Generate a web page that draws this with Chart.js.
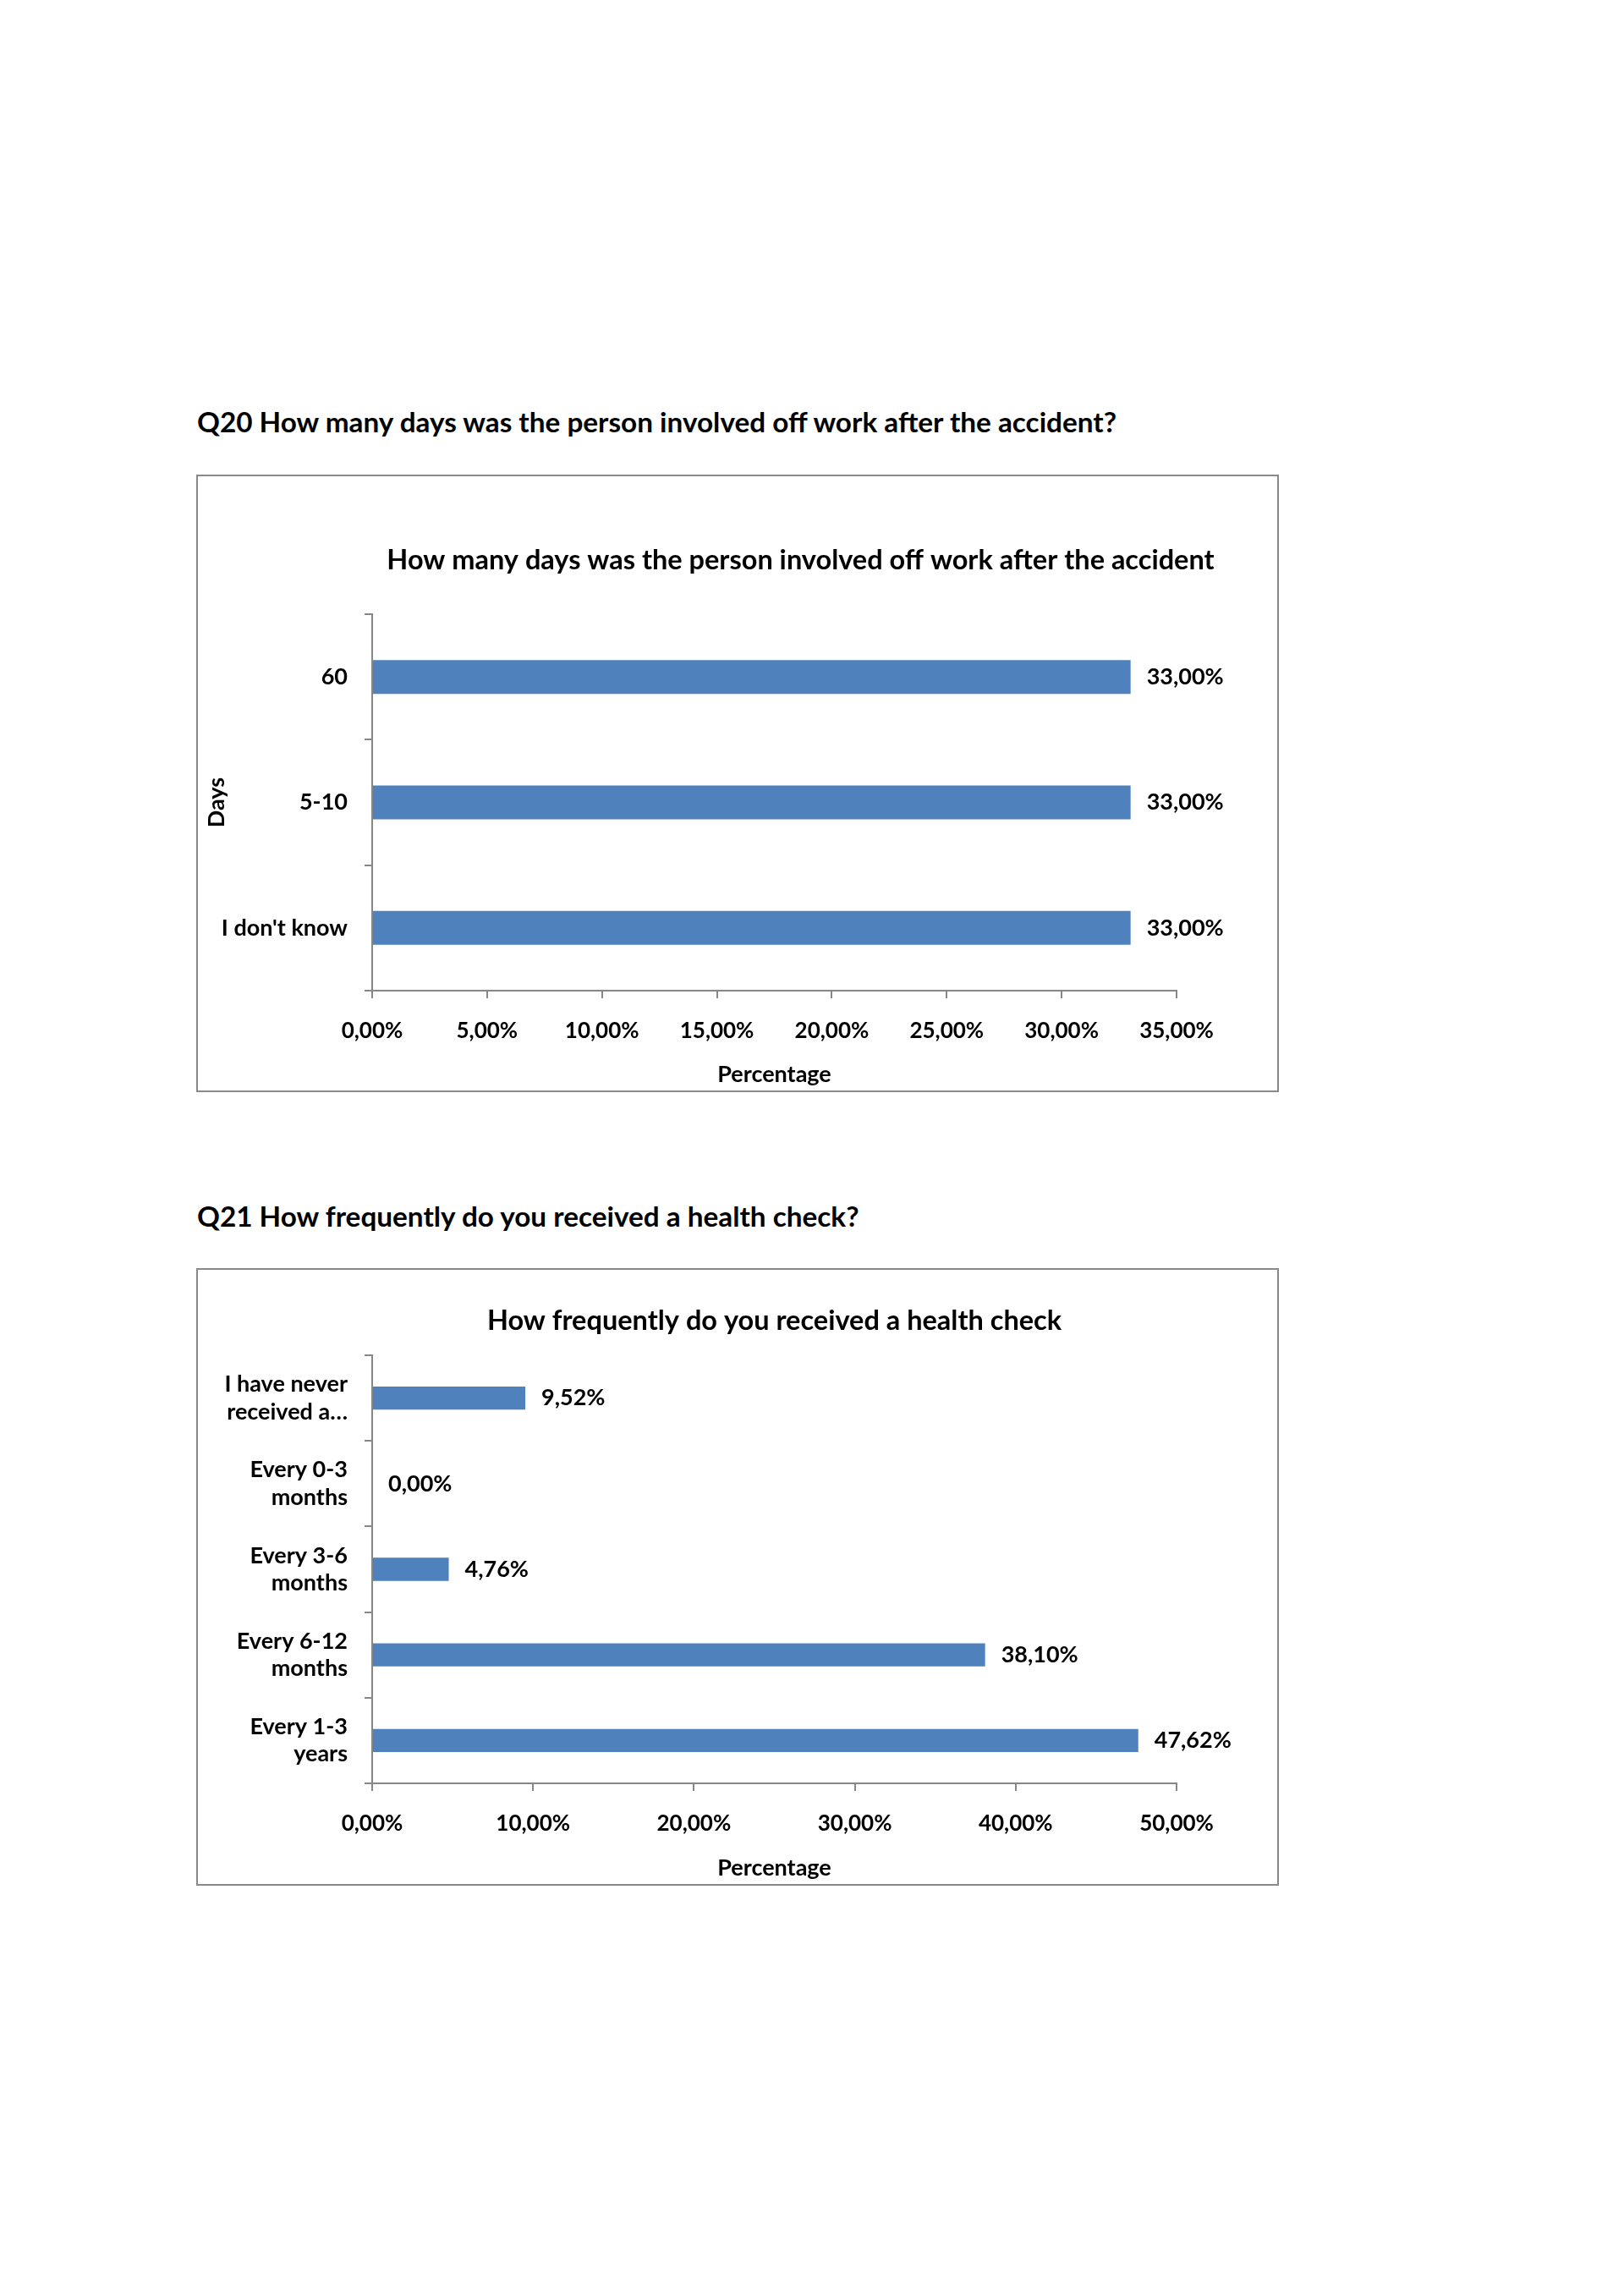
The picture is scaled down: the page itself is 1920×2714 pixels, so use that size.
<!DOCTYPE html>
<html>
<head>
<meta charset="utf-8">
<script src="https://cdn.jsdelivr.net/npm/chart.js@4.4.0/dist/chart.umd.min.js"></script>
<style>
  body { margin: 0; width: 1920px; height: 2714px; background: #fff; position: relative; font-family: Lato, 'Open Sans', sans-serif; }
  .heading { position: absolute; left: 233px; font-weight: bold; font-size: 33.3px; line-height: 1; color: #000; white-space: nowrap; }
  .box { position: absolute; left: 232px; width: 1280px; height: 730px; box-sizing: border-box; border: 2.5px solid #898989; }
  canvas { position: absolute; left: 235px; }
</style>
</head>
<body>

<div class="heading" style="top:482px">Q20 How many days was the person involved off work after the accident?</div>
<div class="box" style="top:561px"></div>
<canvas id="daysChart" width="1274" height="724" style="top:564px"></canvas>

<div class="heading" style="top:1421px">Q21 How frequently do you received a health check?</div>
<div class="box" style="top:1499px"></div>
<canvas id="checkChart" width="1274" height="724" style="top:1502px"></canvas>

<script>
// Q20 data
const daysLabels = ['60', '5-10', "I don't know"];
const daysValues = [33.00, 33.00, 33.00];
const daysMax = 35;
const daysStep = 5;

// Q21 data
const checkLabels = [
    ['I have never', 'received a\u2026'],
    ['Every 0-3', 'months'],
    ['Every 3-6', 'months'],
    ['Every 6-12', 'months'],
    ['Every 1-3', 'years']
];
const checkValues = [9.52, 0.00, 4.76, 38.10, 47.62];
const checkMax = 50;
const checkStep = 10;

const FONT = 'Lato';
const AXIS_GREY = '#868686';
const BAR_BLUE = '#4F81BD';

function pct(v) {
    return Number(v).toFixed(2).replace('.', ',') + '%';
}

// draws the value next to the end of each bar
const valueLabels = {
    id: 'valueLabels',
    afterDatasetsDraw(chart) {
        const ctx = chart.ctx;
        const meta = chart.getDatasetMeta(0);
        const data = chart.data.datasets[0].data;
        ctx.save();
        ctx.font = 'bold 27px ' + FONT;
        ctx.fillStyle = '#000';
        ctx.textAlign = 'left';
        ctx.textBaseline = 'middle';
        meta.data.forEach((bar, i) => {
            ctx.fillText(pct(data[i]), bar.x + 19, bar.y);
        });
        ctx.restore();
    }
};

// chart title placed over the plot area, free to run past its right edge
const chartTitle = {
    id: 'chartTitle',
    afterDraw(chart, args, o) {
        const ctx = chart.ctx;
        const area = chart.chartArea;
        ctx.save();
        ctx.font = 'bold ' + o.size + 'px ' + FONT;
        ctx.fillStyle = '#000';
        ctx.textAlign = 'center';
        ctx.textBaseline = 'alphabetic';
        ctx.fillText(o.text, (area.left + area.right) / 2 + o.shift, area.top - o.gap);
        ctx.restore();
    }
};

function makeChart(id, labels, values, opts) {
    const canvas = document.getElementById(id);
    return new Chart(canvas.getContext('2d'), {
        type: 'bar',
        data: {
            labels: labels,
            datasets: [{
                data: values,
                backgroundColor: BAR_BLUE,
                borderWidth: 0,
                barPercentage: 0.27,
                categoryPercentage: 1
            }]
        },
        plugins: [valueLabels, chartTitle],
        options: {
            indexAxis: 'y',
            responsive: false,
            animation: false,
            devicePixelRatio: 1,
            layout: { padding: { left: 0, right: 118, top: opts.top, bottom: 0 } },
            plugins: {
                legend: { display: false },
                tooltip: { enabled: false },
                title: { display: false },
                chartTitle: { text: opts.title, size: 32.5, shift: opts.titleShift, gap: opts.titleGap }
            },
            scales: {
                x: {
                    min: 0,
                    max: opts.max,
                    afterFit: s => { s.height = opts.xHeight; },
                    ticks: {
                        stepSize: opts.step,
                        color: '#000',
                        padding: 23,
                        font: { family: FONT, size: 26, weight: 'bold' },
                        callback: v => pct(v)
                    },
                    grid: { drawOnChartArea: false, drawTicks: true, tickLength: 9, color: AXIS_GREY, lineWidth: 2 },
                    border: { display: true, color: AXIS_GREY, width: 2 },
                    title: {
                        display: true,
                        text: 'Percentage',
                        color: '#000',
                        font: { family: FONT, size: 27, weight: 'bold' },
                        padding: { top: 0, bottom: 2 }
                    }
                },
                y: {
                    afterFit: s => { s.width = 205; },
                    ticks: {
                        color: '#000',
                        padding: 20,
                        font: { family: FONT, size: 27, weight: 'bold', lineHeight: 1.2 }
                    },
                    grid: { offset: true, drawOnChartArea: false, drawTicks: true, tickLength: 9, color: AXIS_GREY, lineWidth: 2 },
                    border: { display: true, color: AXIS_GREY, width: 2 },
                    title: {
                        display: opts.yTitle !== '',
                        text: opts.yTitle,
                        color: '#000',
                        font: { family: FONT, size: 27, weight: 'bold' },
                        padding: { top: 5, bottom: 0 }
                    }
                }
            }
        }
    });
}

function drawAll() {
    makeChart('daysChart', daysLabels, daysValues, {
        title: 'How many days was the person involved off work after the accident',
        titleShift: 31,
        titleGap: 53,
        top: 162,
        max: daysMax,
        step: daysStep,
        xHeight: 117,
        yTitle: 'Days'
    });
    makeChart('checkChart', checkLabels, checkValues, {
        title: 'How frequently do you received a health check',
        titleShift: 0,
        titleGap: 30,
        top: 100,
        max: checkMax,
        step: checkStep,
        xHeight: 118,
        yTitle: ''
    });
}

if (document.fonts && document.fonts.load) {
    document.fonts.load('bold 27px ' + FONT).then(drawAll, drawAll);
} else {
    drawAll();
}
</script>
</body>
</html>
